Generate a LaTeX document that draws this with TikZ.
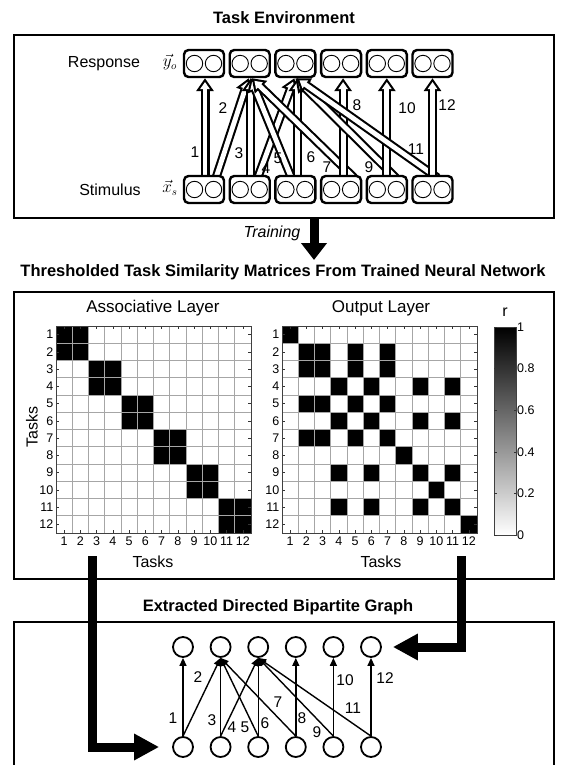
\documentclass[tikz,border=0pt]{standalone}
\usepackage{fontspec}
\setmainfont{Liberation Sans}
\usetikzlibrary{arrows.meta,backgrounds}

\def\outgrp{{1,2,2,3,2,3,2,4,3,5,3,6}}

\tikzset{
  frame/.style={line width=2.4pt},
  title/.style={font=\fontsize{16.5}{19}\selectfont\bfseries},
  lbl/.style={font=\fontsize{16}{18}\selectfont},
  num/.style={font=\fontsize{15.5}{18}\selectfont, inner sep=0pt},
  axnum/.style={font=\fontsize{12.5}{14}\selectfont, inner sep=0pt},
  unitbox/.style={draw, line width=2.4pt, rounded corners=4.5pt, fill=white,
    minimum width=40pt, minimum height=27pt, inner sep=0pt},
  unitdot/.style={line width=0.9pt},
  hollowout/.style={line width=9pt, -{Triangle[length=13pt,width=17pt]}},
  hollowin/.style={white, line width=4.8pt, shorten >=3.8pt,
    -{Triangle[length=7.1pt,width=9.3pt]}},
  bigarrow/.style={line width=9pt, line join=miter,
    -{Triangle[length=#1,width=25pt]}},
  bigarrow/.default=25pt,
  gnode/.style={circle, draw, line width=1.8pt, minimum size=20pt, inner sep=0pt},
  garrow/.style={line width=1.4pt, -{Triangle[length=8pt,width=7pt]}},
  gridln/.style={gray!70, line width=0.6pt},
  tickln/.style={gray!40!black, line width=0.6pt},
}

\begin{document}
\begin{tikzpicture}[x=1pt,y=-1pt]
\useasboundingbox (0,0) rectangle (562,765);

% task environment
\node[title] (t1) at (284,18) {Task Environment};
\draw[frame] (14,35) rectangle (554,218);
\node[lbl] (resp) at (104,63.5) {Response};
\node[lbl] (stim) at (110,190) {Stimulus};
\node[lbl] (yo) at (170,62) {$\vec{y}_o$};
\node[lbl] (xs) at (170,188) {$\vec{x}_s$};

\foreach \i in {1,...,6}{
  \pgfmathsetmacro\xx{204+45.7*(\i-1)}
  \node[unitbox] (R\i) at (\xx,63.5) {};
  \node[unitbox] (S\i) at (\xx,189.5) {};
  \foreach \u in {R,S}{
    \draw[unitdot] ([xshift=-9.5pt]\u\i.center) circle (8.2pt);
    \draw[unitdot] ([xshift=9.5pt]\u\i.center) circle (8.2pt);
  }
}

\begin{pgfonlayer}{background}
\foreach \s/\r/\dx/\ex in {1/1/1/1, 1/2/12/-1, 2/2/1/1, 2/3/8/-1, 3/2/-4/1, 3/3/2/2,
    4/2/13/2, 4/4/2/2, 5/3/9/0, 5/5/0/0, 6/3/5/1, 6/6/0/0}{
  \draw[hollowout] ([xshift=\dx pt, yshift=-3pt]S\s.north) -- ([xshift=\ex pt]R\r.south);
  \draw[hollowin] ([xshift=\dx pt, yshift=-3pt]S\s.north) -- ([xshift=\ex pt]R\r.south);
}
\end{pgfonlayer}

\foreach \n/\x/\y in {1/195/152, 2/223/108, 3/239/153, 4/266/168, 5/278/158, 6/311/157,
    7/327/167, 8/357/105, 9/369/167, 10/407/108, 11/416/149, 12/447/105}
  \node[num] (a\n) at (\x,\y) {\n};

% training
\node[lbl, font=\fontsize{16}{18}\selectfont\itshape] (train) at (272,233) {Training};
\coordinate (trtop) at (314,218);
\coordinate (trend) at (314,260);
\draw[bigarrow=17pt] (trtop) -- (trend);

% similarity matrices
\node[title] (t2) at (283,272) {Thresholded Task Similarity Matrices From Trained Neural Network};
\draw[frame] (14,292) rectangle (554,579);
\node[lbl, font=\fontsize{17}{19}\selectfont] (assoc) at (153,308) {Associative Layer};
\node[lbl, font=\fontsize{17}{19}\selectfont] (outl) at (381,308) {Output Layer};

\begin{scope}[shift={(56,326)}, x=16.25pt, y=-17.25pt]
  \foreach \r in {1,...,12}
    \foreach \c in {1,...,12}{
      \pgfmathtruncatemacro\gr{int((\r+1)/2)}
      \pgfmathtruncatemacro\gc{int((\c+1)/2)}
      \ifnum\gr=\gc \fill (\c-1,\r-1) rectangle (\c,\r); \fi
    }
  \foreach \k in {0,...,12}{
    \draw[gridln] (\k,0) -- (\k,12);
    \draw[gridln] (0,\k) -- (12,\k);
  }
  \foreach \k in {1,...,12}{
    \draw[tickln] (\k-0.5,0) -- ++(0,0.15);
    \draw[tickln] (\k-0.5,12) -- ++(0,-0.15);
    \draw[tickln] (0,\k-0.5) -- ++(0.16,0);
    \draw[tickln] (12,\k-0.5) -- ++(-0.16,0);
    \node[axnum] at (\k-0.5,12.45) {\k};
    \node[axnum, anchor=east] at (-0.15,\k-0.5) {\k};
  }
  \draw[gray!50!black, line width=0.8pt] (0,0) rectangle (12,12);
\end{scope}
\node[lbl] (xl1) at (153,562) {Tasks};
\node[lbl, rotate=90] (yl1) at (32,427) {Tasks};

\begin{scope}[shift={(282,326)}, x=16.25pt, y=-17.25pt]
  \foreach \r in {1,...,12}
    \foreach \c in {1,...,12}{
      \pgfmathtruncatemacro\gr{\outgrp[\r-1]}
      \pgfmathtruncatemacro\gc{\outgrp[\c-1]}
      \ifnum\gr=\gc \fill (\c-1,\r-1) rectangle (\c,\r); \fi
    }
  \foreach \k in {0,...,12}{
    \draw[gridln] (\k,0) -- (\k,12);
    \draw[gridln] (0,\k) -- (12,\k);
  }
  \foreach \k in {1,...,12}{
    \draw[tickln] (\k-0.5,0) -- ++(0,0.15);
    \draw[tickln] (\k-0.5,12) -- ++(0,-0.15);
    \draw[tickln] (0,\k-0.5) -- ++(0.16,0);
    \draw[tickln] (12,\k-0.5) -- ++(-0.16,0);
    \node[axnum] at (\k-0.5,12.45) {\k};
    \node[axnum, anchor=east] at (-0.15,\k-0.5) {\k};
  }
  \draw[gray!50!black, line width=0.8pt] (0,0) rectangle (12,12);
\end{scope}
\node[lbl] (xl2) at (381,562) {Tasks};

% colour bar
\shade[top color=black, bottom color=white] (494,327) rectangle (516,535);
\draw[gray!50!black, line width=0.7pt] (494,327) rectangle (516,535);
\node[lbl] (rlab) at (505,312) {r};
\foreach \v/\t in {0/0, 1/0.2, 2/0.4, 3/0.6, 4/0.8, 5/1}{
  \draw[tickln] (516,535-41.6*\v) -- ++(-2.5,0);
  \draw[tickln] (494,535-41.6*\v) -- ++(2.5,0);
  \node[axnum, anchor=west] at (517,535-41.6*\v) {\t};
}

% extracted graph
\node[title] (t3) at (278,607) {Extracted Directed Bipartite Graph};
\draw[frame] (14,770) |- (554,622) -- (554,770);

\foreach \i in {1,...,6}{
  \pgfmathsetmacro\xx{183+37.6*(\i-1)}
  \node[gnode] (gR\i) at (\xx,647) {};
  \node[gnode] (gS\i) at (\xx,747) {};
}
\foreach \s/\r in {1/1, 1/2, 2/2, 2/3, 3/2, 3/3, 4/2, 4/4, 5/3, 5/5, 6/3, 6/6}
  \draw[garrow] (gS\s.north) -- (gR\r.south);

\foreach \n/\x/\y in {1/173/718, 2/198/677, 3/212/720, 4/232/727, 5/245/727, 6/265/723,
    7/278/702, 8/302/718, 9/317/732, 10/345/680, 11/353/708, 12/385/678}
  \node[num] (b\n) at (\x,\y) {\n};

\coordinate (lstart) at (92,556);
\coordinate (rstart) at (461,556);
\draw[bigarrow] (lstart) |- ([xshift=-13pt]gS1.west);
\draw[bigarrow] (rstart) |- ([xshift=11pt]gR6.east);
\end{tikzpicture}
\end{document}
